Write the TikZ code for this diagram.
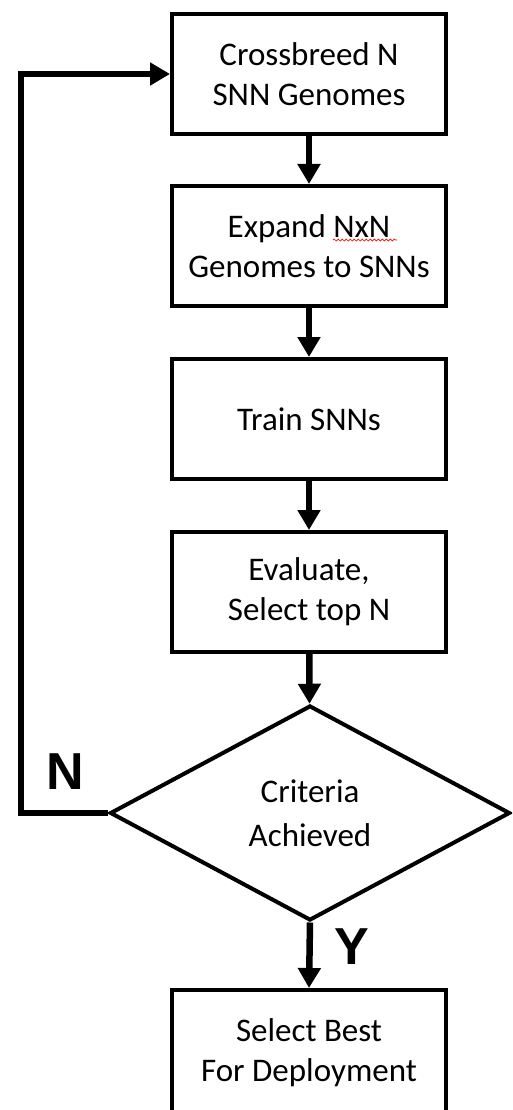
\documentclass[tikz,border=0pt]{standalone}
\usepackage{fontspec}
\setmainfont{Carlito}
\newfontfamily\yesnofont{Liberation Sans}
\usepackage{tikz}
\usetikzlibrary{arrows.meta}
\usetikzlibrary{shapes.geometric}
\usetikzlibrary{decorations.pathmorphing}

\tikzset{
  stepbox/.style={draw, line width=4pt, rectangle, minimum width=274pt, minimum height=120pt,
    align=center, inner sep=0pt, font=\fontsize{33}{40}\selectfont},
  decision/.style={draw, line width=4pt, diamond, minimum width=400pt, minimum height=215pt,
    align=center, inner sep=0pt, font=\fontsize{33}{44}\selectfont},
  flowarrow/.style={line width=6.5pt, line join=miter, -{Triangle[length=20pt,width=22pt]}},
  yesno/.style={font=\yesnofont\bfseries\fontsize{52}{52}\selectfont}
}

\begin{document}
\begin{tikzpicture}[x=1pt,y=-1pt]

    % Frame
    \path[use as bounding box, clip] (0,0) rectangle (512,1110);

    % Steps
    \node[stepbox] (cross)  at (309,74)   {Crossbreed N\\SNN Genomes};
    \node[stepbox] (expand) at (309,246)  {Expand NxN\\Genomes to SNNs};
    \node[stepbox] (train)  at (309,419)  {Train SNNs};
    \node[stepbox] (eval)   at (309,592)  {Evaluate,\\Select top N};
    \node[decision] (crit)  at (310,813)  {Criteria\\Achieved};
    \node[stepbox, minimum height=126pt] (deploy) at (309,1053) {Select Best\\For Deployment};

    % Spell-check squiggle under NxN
    \draw[red, line width=0.7pt, decorate, decoration={snake, segment length=4pt, amplitude=1pt}]
      (333,240) -- (397,240);

    % Down arrows
    \draw[flowarrow] (cross) -- (expand);
    \draw[flowarrow] (expand) -- (train);
    \draw[flowarrow] (train) -- (eval);
    \draw[flowarrow] (eval) -- (crit);
    \draw[flowarrow] (crit.south) -- (deploy.north);

    % Loop back
    \coordinate (loopbl) at (21,813);
    \coordinate (looptl) at (21,74);
    \draw[flowarrow] (crit.west) -- (loopbl) -- (looptl) -- (cross.west);

    % Labels
    \node[yesno] (nolabel)  at (65,772)  {N};
    \node[yesno] (yeslabel) at (352,947) {Y};

\end{tikzpicture}
\end{document}
